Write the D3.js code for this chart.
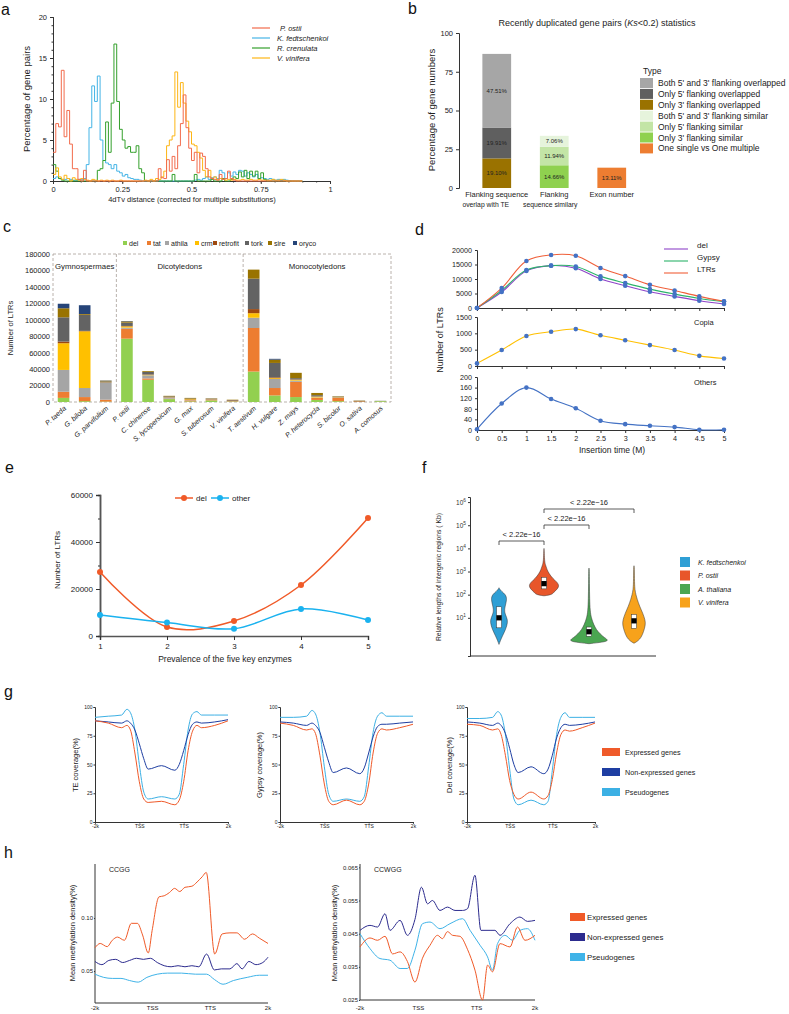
<!DOCTYPE html>
<html>
<head>
<meta charset="utf-8">
<script src="https://cdn.jsdelivr.net/npm/d3@7"></script>
<style>
body { margin: 0; background: #fff; }
svg { display: block; font-family: "Liberation Sans", Arial, sans-serif; }
</style>
</head>
<body>
<svg width="789" height="1014"></svg>
<script>
// ---------- data: panel a (4dTv histograms, bins of 0.01) ----------
const binWidthA = 0.01;
const speciesA = ['P. ostii', 'K. fedtschenkoi', 'R. crenulata', 'V. vinifera'];
const colorsA = ['#f26b4c', '#45b4e6', '#34a02c', '#fdb515'];
const ostiiA = [3.5,7,6.6,13.5,5.4,8.6,4.5,1.5,1.5,0.2, 0,1.3,0,0,0,0,0,0,0,0, 0,0,0,0,0,0,0,0,0,0,
  0,0,0,0,0,0,0,0,1.5,0.4, 0.3,2.6,1.2,3,1.5,4.3,7,10.5,6.5,4, 2.5,3.5,1,3.4,3,1.5,0.5,0.3,0.2,0.1,
  0.8,0.2,0.3,1.2,0.3,0.1,0,0,0,0, 0,0,0,0,0,0,0,0,0,0, 0,0,0,0,0,0,0,0,0,0];
const kfedA = [0.3,0.5,0.3,0.2,0.2,0.3,0.2,0.1,0.1,0.2, 0.2,0.3,2,6.5,11.6,9.7,12.8,5,2.5,2.2,
  2,1.5,2,1.2,1,0.6,0.8,0.4,0.3,0.2, 0.2,0.1,0,0,0,0,0,0,0,0, 0,0,0,0,0,0,0,0,0,0,
  0,0.1,0.2,0.1,0.3,0.5,0.2,0.4,0.5,0.3, 1.3,1,0.3,1,0.6,1.1,0.8,1.3,1.2,0.6,
  1,0.8,0.5,0.8,0.3,0.4,0.3,0.2,0.3,0.2, 0.1,0.2,0.1,0.2,0.1,0.05,0,0,0,0];
const crenA = [2,1.2,0.3,0.1,0,0,0,0,0,0, 0,0,0,0,0,0,1.3,1.5,2.5,7.2, 3.5,9.5,16.7,9.7,6.3,5,4,4.2,3.5,3.5,
  4.3,1.5,1,0,0,0,0,0,0,0, 0,0,0,0.8,0,0,0,0,0,0, 0,0.8,0,0,0,0,0,0.2,0,0,
  0,0.3,0,0,0.2,0.5,0.3,1.1,0.5,1.3, 0.3,1.2,0.6,1.2,0.3,1,0.2,0,0,0, 0,0,0,0,0,0,0,0,0,0];
const vinA = [0.8,1.6,0.5,0.2,0.7,0.3,0,0.4,0.2,0.1, 0.3,0.2,0.1,0,0.2,0.1,0,0.1,0,0.1,
  0,0.1,0,0,0.1,0,0,0,0,0, 0,0,0,0.1,0,0.2,0,0.3,0.2,0.5, 1.2,4.3,5,5.5,13.3,9,12,9.5,7.3,6,
  4.5,4.3,3.5,2.8,1.3,0.5,1.3,0.3,0.5,0.2, 0.3,0.2,0.1,0.2,0.1,0.2,0.1,0.1,0.2,0.1,
  0.1,0.2,0.1,0.1,0.2,0.1,0.1,0.1,0.1,0.2, 0.1,0.1,0.2,0.1,0,0,0,0,0,0];

// ---------- data: panel b ----------
const dupCategories = [['Flanking sequence', 'overlap with TE'], ['Flanking', 'sequence similary'], ['Exon number']];
const dupTypes = ["Both 5' and 3' flanking overlapped", "Only 5' flanking overlapped", "Only 3' flanking overlapped",
  "Both 5' and 3' flanking similar", "Only 5' flanking similar", "Only 3' flanking similar", 'One single vs One multiple'];
const dupColors = ['#a6a6a6', '#5f5f5f', '#9a7200', '#e6f4dc', '#c3e5a6', '#8fd14f', '#ed7d31'];
// [category index, type index, percent] bottom to top
const dupSegments = [[0, 2, 19.10], [0, 1, 19.91], [0, 0, 47.51], [1, 5, 14.66], [1, 4, 11.94], [1, 3, 7.06], [2, 6, 13.11]];

// ---------- data: panel c ----------
const speciesC = ['P. taeda', 'G. biloba', 'G. parvifolium', 'P. ostii', 'C. chinense', 'S. lycopersicum', 'G. max',
  'S. tuberosum', 'V. vinifera', 'T. aestivum', 'H. vulgare', 'Z. mays', 'P. heterocycla', 'S. bicolor', 'O. sativa', 'A. comosus'];
const ltrTypes = ['del', 'tat', 'athila', 'crm', 'retrofit', 'tork', 'sire', 'oryco'];
const ltrColors = ['#92d050', '#ed7d31', '#a5a5a5', '#ffc000', '#9e480e', '#636363', '#997300', '#264478'];
const ltrCounts = [
  [5000, 7500, 26500, 32500, 2000, 29500, 11000, 5500],
  [1000, 5000, 11000, 69000, 500, 19500, 1000, 10700],
  [500, 2300, 20500, 300, 300, 1200, 800, 300],
  [77000, 12000, 1500, 1500, 500, 4000, 1500, 500],
  [27000, 1700, 3800, 500, 500, 3000, 1000, 0],
  [3500, 500, 1500, 200, 300, 800, 700, 0],
  [800, 1200, 500, 800, 300, 600, 800, 0],
  [2000, 500, 500, 200, 400, 500, 400, 0],
  [500, 300, 200, 100, 800, 500, 400, 0],
  [37000, 53000, 12500, 5500, 5000, 37000, 11000, 0],
  [8000, 9000, 11000, 1000, 1000, 17500, 4000, 1000],
  [6000, 18500, 1500, 1000, 500, 1500, 6500, 0],
  [2500, 2500, 500, 1000, 300, 1500, 2700, 0],
  [1000, 4000, 500, 300, 200, 500, 500, 0],
  [200, 300, 100, 100, 500, 300, 300, 0],
  [1000, 100, 200, 0, 0, 200, 0, 0]
];
const groupsC = [['Gymnospermaes', 0, 3], ['Dicotyledons', 3, 9], ['Monocotyledons', 9, 16]];

// ---------- data: panel d ----------
const insertTime = [0, 0.5, 1, 1.5, 2, 2.5, 3, 3.5, 4, 4.5, 5];
const delD = [0, 5500, 12800, 14600, 13700, 10000, 7700, 5600, 4000, 2500, 1400];
const gypsyD = [0, 6050, 13100, 14600, 14300, 10900, 8600, 6500, 4800, 3300, 2200];
const ltrsD = [0, 6860, 16200, 18300, 18000, 13800, 11000, 8000, 6050, 4000, 2300];
const copiaD = [80, 490, 920, 1050, 1130, 940, 790, 640, 490, 310, 230];
const othersD = [3, 100, 160, 117, 82, 35, 22, 16, 11, 1, 1];

// ---------- data: panel e ----------
const prevalence = [1, 2, 3, 4, 5];
const delE = [27200, 3800, 6400, 21700, 50200];
const otherE = [8900, 5700, 3100, 11500, 6800];

// ---------- data: panel f (violins, log10 Kb vs relative half width) ----------
const speciesF = ['K. fedtschenkoi', 'P. ostii', 'A. thaliana', 'V. vinifera'];
const colorsF = ['#2f9fd5', '#e8562a', '#4aa651', '#f7a21b'];
const violinLog = [
  [[-0.15,0],[0,0.08],[0.2,0.2],[0.5,0.42],[0.8,0.55],[1,0.5],[1.25,0.32],[1.5,0.38],[1.8,0.5],[2,0.42],[2.15,0.15],[2.25,0.03],[2.3,0]],
  [[1.95,0],[2,0.5],[2.1,0.6],[2.25,0.85],[2.4,0.95],[2.55,0.8],[2.7,0.55],[2.9,0.32],[3.1,0.18],[3.3,0.08],[3.5,0.03],[3.9,0.015],[4,0]],
  [[-0.12,0],[-0.05,0.9],[0.02,1.25],[0.15,0.95],[0.3,0.7],[0.5,0.45],[0.7,0.3],[1,0.14],[1.3,0.07],[1.8,0.04],[2.5,0.025],[3.1,0.015],[3.15,0]],
  [[-0.1,0],[0,0.25],[0.15,0.45],[0.4,0.6],[0.7,0.72],[0.9,0.7],[1.2,0.55],[1.5,0.35],[1.8,0.2],[2,0.12],[2.2,0.06],[2.5,0.03],[3.2,0.02],[3.25,0]]
];
const boxF = [[3.7, 10, 30], [178, 300, 560], [1.6, 2.5, 4], [3.5, 7.4, 14]];
const pairsF = [[0, 1, '< 2.22e\u221216'], [1, 2, '< 2.22e\u221216'], [1, 3, '< 2.22e\u221216']];

// ---------- data: panel g ----------
const geneTicks = ['-2k', 'TSS', 'TTS', '2k'];
const geneSeries = ['Expressed genes', 'Non-expressed genes', 'Pseudogenes'];
const geneColors = ['#ef5a2a', '#1e3ea2', '#3cb0e4'];
const gX = [0, 0.3, 0.6, 0.72, 0.8, 0.9, 1.0, 1.1, 1.2, 1.5, 1.8, 1.9, 2.0, 2.1, 2.2, 2.3, 2.4, 2.7, 3.0];
const teCov = [
  [88, 86, 82, 84, 80, 60, 35, 20, 17, 18, 15, 19, 35, 62, 79, 84, 82, 84, 88],
  [88, 87, 86, 88, 86, 80, 68, 55, 46, 49, 45, 50, 62, 76, 85, 87, 86, 87, 89],
  [91, 92, 93, 98, 95, 80, 50, 26, 20, 22, 20, 24, 50, 80, 94, 96, 93, 93, 93]
];
const gypsyCov = [
  [86, 84, 80, 81, 77, 58, 33, 18, 15, 19, 15, 18, 33, 60, 77, 81, 80, 82, 85],
  [87, 86, 84, 86, 84, 78, 65, 52, 43, 47, 42, 47, 60, 74, 83, 85, 85, 86, 87],
  [91, 91, 92, 97, 94, 78, 48, 24, 18, 20, 18, 22, 48, 78, 92, 95, 92, 92, 92]
];
const delCov = [
  [85, 84, 80, 81, 76, 58, 36, 24, 20, 26, 20, 23, 37, 60, 76, 80, 79, 82, 86],
  [87, 86, 84, 86, 84, 77, 64, 50, 43, 48, 42, 46, 58, 73, 82, 85, 84, 85, 87],
  [90, 90, 91, 96, 93, 76, 46, 20, 15, 19, 15, 18, 45, 76, 91, 95, 91, 91, 91]
];

// ---------- data: panel h ([position 0..1 from -2k to 2k, density]) ----------
const ccggExp = [[0,0.072],[0.03,0.076],[0.07,0.073],[0.1,0.079],[0.13,0.082],[0.17,0.079],[0.21,0.095],[0.245,0.095],[0.275,0.084],[0.308,0.067],[0.33,0.088],[0.37,0.12],[0.4,0.121],[0.43,0.124],[0.46,0.128],[0.49,0.125],[0.52,0.129],[0.56,0.13],[0.59,0.134],[0.62,0.139],[0.643,0.143],[0.692,0.066],[0.735,0.085],[0.78,0.086],[0.82,0.086],[0.865,0.08],[0.91,0.085],[0.95,0.081],[1,0.076]];
const ccggNon = [[0,0.059],[0.04,0.056],[0.08,0.06],[0.12,0.061],[0.16,0.058],[0.2,0.06],[0.24,0.062],[0.28,0.061],[0.32,0.062],[0.36,0.058],[0.4,0.055],[0.44,0.054],[0.48,0.055],[0.52,0.054],[0.56,0.055],[0.6,0.054],[0.645,0.066],[0.69,0.051],[0.73,0.052],[0.78,0.052],[0.82,0.057],[0.85,0.052],[0.89,0.059],[0.93,0.056],[0.97,0.058],[1,0.063]];
const ccggPseudo = [[0,0.047],[0.05,0.044],[0.1,0.043],[0.15,0.043],[0.2,0.041],[0.25,0.0395],[0.3,0.044],[0.36,0.047],[0.42,0.048],[0.5,0.048],[0.58,0.047],[0.645,0.047],[0.69,0.042],[0.74,0.0375],[0.8,0.041],[0.88,0.044],[0.95,0.046],[1,0.046]];
const ccwggExp = [[0,0.041],[0.057,0.0437],[0.1,0.043],[0.143,0.0442],[0.186,0.0389],[0.229,0.0395],[0.271,0.0366],[0.314,0.0304],[0.357,0.0376],[0.4,0.0415],[0.443,0.0445],[0.471,0.0435],[0.5,0.0456],[0.529,0.0445],[0.571,0.0442],[0.614,0.0403],[0.657,0.034],[0.7,0.025],[0.729,0.0355],[0.757,0.0335],[0.8,0.042],[0.857,0.041],[0.9,0.047],[0.943,0.043],[1,0.0445]];
const ccwggNon = [[0,0.046],[0.057,0.0475],[0.1,0.047],[0.143,0.051],[0.171,0.046],[0.229,0.049],[0.271,0.0445],[0.314,0.0493],[0.351,0.059],[0.386,0.054],[0.414,0.055],[0.457,0.052],[0.5,0.053],[0.543,0.052],[0.586,0.052],[0.614,0.0525],[0.657,0.0626],[0.691,0.046],[0.743,0.046],[0.771,0.046],[0.8,0.0445],[0.857,0.048],[0.914,0.05],[0.957,0.0487],[1,0.049]];
const ccwggPseudo = [[0,0.045],[0.057,0.0405],[0.114,0.0375],[0.171,0.037],[0.229,0.0345],[0.271,0.0345],[0.314,0.04],[0.357,0.048],[0.4,0.0485],[0.457,0.0465],[0.514,0.048],[0.586,0.0495],[0.629,0.046],[0.686,0.0415],[0.729,0.038],[0.757,0.034],[0.786,0.042],[0.829,0.0445],[0.871,0.043],[0.914,0.046],[0.957,0.0465],[1,0.043]];
const hColors = ['#f05a28', '#2c2b8e', '#3fb3e8'];

// ================= drawing =================
const svg = d3.select('svg');
svg.append('rect').attr('width', 789).attr('height', 1014).attr('fill', '#fff');

function letter(t, x, y) {
    svg.append('text').attr('x', x).attr('y', y).attr('font-size', 16).attr('fill', '#111').text(t);
}
function fixAxis(g, size) {
    g.attr('font-family', null).attr('font-size', size);
    g.selectAll('.domain').attr('stroke', '#333');
    g.selectAll('.tick line').attr('stroke', '#333');
    g.selectAll('.tick text').attr('fill', '#222');
    return g;
}
function label(x, y, t, size, opts = {}) {
    const el = svg.append('text')
        .attr('x', x).attr('y', y)
        .attr('font-size', size)
        .attr('fill', opts.fill || '#222')
        .attr('text-anchor', opts.anchor || 'middle')
        .text(t);
    if (opts.rotate) el.attr('transform', `rotate(${opts.rotate},${x},${y})`);
    if (opts.italic) el.attr('font-style', 'italic');
    return el;
}
const intFmt = d3.format('d');

// ---------------- panel a ----------------
letter('a', 1, 15);
const xA = d3.scaleLinear().domain([0, 1]).range([53, 330]);
const yA = d3.scaleLinear().domain([0, 20]).range([181, 17]);
fixAxis(svg.append('g').attr('transform', 'translate(0,181)')
    .call(d3.axisBottom(xA).tickValues(d3.range(0, 1.001, 0.05)).tickSize(1.5).tickFormat('')), 7.5);
fixAxis(svg.append('g').attr('transform', 'translate(0,181)')
    .call(d3.axisBottom(xA).tickValues([0, 0.25, 0.5, 0.75, 1]).tickSize(3).tickFormat(d3.format('~g'))), 7.5);
fixAxis(svg.append('g').attr('transform', 'translate(53,0)')
    .call(d3.axisLeft(yA).tickValues(d3.range(0, 21, 1)).tickSize(1.5).tickFormat('')), 7.5);
fixAxis(svg.append('g').attr('transform', 'translate(53,0)')
    .call(d3.axisLeft(yA).tickValues([0, 5, 10, 15, 20]).tickSize(3)), 7.5);
label(30, 99, 'Percentage of gene pairs', 9.5, { rotate: -90 });
label(192, 202, '4dTv distance (corrected for multiple substitutions)', 7.5);

const stepLine = d3.line().x(d => xA(d[0])).y(d => yA(d[1])).curve(d3.curveStepAfter);
[kfedA, crenA, vinA, ostiiA].forEach((vals, k) => {
    const idx = [1, 2, 3, 0][k];
    const pts = vals.map((v, i) => [i * binWidthA, v]);
    pts.push([vals.length * binWidthA, vals[vals.length - 1]]);
    svg.append('path').datum(pts)
        .attr('d', stepLine)
        .attr('fill', 'none')
        .attr('stroke', colorsA[idx])
        .attr('stroke-width', 1);
});
speciesA.forEach((s, i) => {
    const y = 28 + i * 10;
    svg.append('line').attr('x1', 252).attr('x2', 270).attr('y1', y).attr('y2', y)
        .attr('stroke', colorsA[i]).attr('stroke-width', 1.2);
    label(i === 0 ? 280 : 277, y + 2.5, s, 7.5, { anchor: 'start', italic: true });
});

// ---------------- panel b ----------------
letter('b', 408, 14);
const titleB = svg.append('text').attr('x', 597).attr('y', 26).attr('font-size', 9).attr('text-anchor', 'middle').attr('fill', '#222');
titleB.append('tspan').text('Recently duplicated gene pairs (');
titleB.append('tspan').attr('font-style', 'italic').text('Ks');
titleB.append('tspan').text('<0.2) statistics');
const xB = d3.scaleBand().domain(d3.range(3)).range([468, 640.5]).paddingInner(0.5).paddingOuter(0.25);
const yB = d3.scaleLinear().domain([0, 100]).range([188, 33]);
fixAxis(svg.append('g').attr('transform', 'translate(459,0)')
    .call(d3.axisLeft(yB).tickValues([0, 25, 50, 75, 100]).tickSize(3)), 7.5);
label(435, 110, 'Percentage of gene numbers', 9.5, { rotate: -90 });
const cumB = [0, 0, 0];
dupSegments.forEach(([c, t, v]) => {
    const y0 = cumB[c], y1 = y0 + v;
    cumB[c] = y1;
    svg.append('rect')
        .attr('x', xB(c)).attr('width', xB.bandwidth())
        .attr('y', yB(y1)).attr('height', yB(y0) - yB(y1))
        .attr('fill', dupColors[t]);
    label(xB(c) + xB.bandwidth() / 2, (yB(y0) + yB(y1)) / 2 + 2, v.toFixed(2) + '%', 6, { fill: '#222' });
});
// second caption lines sit slightly off the bar centres, as in the figure
const captionShiftB = [[0, -11], [0, -4], [0]];
dupCategories.forEach((lines, c) => {
    lines.forEach((t, j) => label(xB(c) + xB.bandwidth() / 2 + captionShiftB[c][j], 197 + j * 9.5, t, j === 0 ? 7.5 : 6.8));
});
label(643, 74, 'Type', 8.5, { anchor: 'start' });
dupTypes.forEach((t, i) => {
    const y = 83 + i * 10.9;
    svg.append('rect').attr('x', 640).attr('y', y - 5).attr('width', 13).attr('height', 10).attr('fill', dupColors[i]);
    label(658, y + 3, t, 8.5, { anchor: 'start' });
});

// ---------------- panel c ----------------
letter('c', 3, 232);
const xC = d3.scaleBand().domain(speciesC).range([53, 391]).paddingInner(0.45).paddingOuter(0.225);
const yC = d3.scaleLinear().domain([0, 180000]).range([402, 254]);
const yAxisC = fixAxis(svg.append('g').attr('transform', 'translate(52,0)')
    .call(d3.axisLeft(yC).tickValues(d3.range(0, 180001, 20000)).tickSize(0).tickPadding(2).tickFormat(intFmt)), 7.5);
yAxisC.select('.domain').remove();
label(13, 328, 'Number of LTRs', 7.5, { rotate: -90 });
svg.append('rect').attr('x', 53).attr('y', 254).attr('width', 338).attr('height', 148)
    .attr('fill', 'none').attr('stroke', '#a89f98').attr('stroke-dasharray', '3,2').attr('stroke-width', 0.8);
groupsC.forEach(([name, a, b], i) => {
    const x0 = i === 0 ? 53 : xC(speciesC[a]) - xC.step() * xC.paddingInner() / 2;
    const x1 = b === speciesC.length ? 391 : xC(speciesC[b]) - xC.step() * xC.paddingInner() / 2;
    if (i > 0) {
        svg.append('line').attr('x1', x0).attr('x2', x0).attr('y1', 254).attr('y2', 402)
            .attr('stroke', '#a89f98').attr('stroke-dasharray', '3,2').attr('stroke-width', 0.8);
    }
    label((x0 + x1) / 2, 269, name, 7.8);
});
const stackC = d3.stack().keys(d3.range(ltrTypes.length))(ltrCounts);
stackC.forEach((layer, k) => {
    svg.append('g').selectAll('rect').data(layer).enter().append('rect')
        .attr('x', (d, i) => xC(speciesC[i]))
        .attr('width', xC.bandwidth())
        .attr('y', d => yC(d[1]))
        .attr('height', d => yC(d[0]) - yC(d[1]))
        .attr('fill', ltrColors[k]);
});
speciesC.forEach(s => {
    const x = xC(s) + xC.bandwidth() / 2 + 3, y = 409;
    label(x, y, s, 7, { anchor: 'end', italic: true, rotate: -42 });
});
const legCx = [123, 147, 165, 195, 213, 245, 268, 293];
ltrTypes.forEach((t, i) => {
    svg.append('rect').attr('x', legCx[i]).attr('y', 241).attr('width', 4).attr('height', 4).attr('fill', ltrColors[i]);
    label(legCx[i] + 6, 246, t, 7, { anchor: 'start' });
});

// ---------------- panel d ----------------
letter('d', 415, 235);
const xD = d3.scaleLinear().domain([0, 5]).range([477, 724]);
const subD = [
    { y: d3.scaleLinear().domain([0, 20000]).range([308, 250]), ticks: [0, 5000, 10000, 15000, 20000] },
    { y: d3.scaleLinear().domain([0, 1500]).range([366, 317]), ticks: [0, 500, 1000, 1500] },
    { y: d3.scaleLinear().domain([0, 200]).range([430, 377]), ticks: [0, 40, 80, 120, 160, 200] }
];
subD.forEach((s, i) => {
    fixAxis(svg.append('g').attr('transform', 'translate(477,0)')
        .call(d3.axisLeft(s.y).tickValues(s.ticks).tickSize(2).tickFormat(intFmt)), 7.2);
    fixAxis(svg.append('g').attr('transform', `translate(0,${s.y(0)})`)
        .call(d3.axisBottom(xD).tickValues(insertTime).tickSize(3).tickFormat(i === 2 ? d3.format('~g') : '')), 7.2);
});
label(443, 340, 'Number of LTRs', 9, { rotate: -90 });
label(612, 453, 'Insertion time (M)', 8.5);
const curveD = (ys, sc) => d3.line().x((d, i) => xD(insertTime[i])).y(d => sc(d)).curve(d3.curveCatmullRom)(ys);
const linesD = [[delD, '#8e44c9', 0], [gypsyD, '#2db36b', 0], [ltrsD, '#f0603a', 0], [copiaD, '#ffc000', 1], [othersD, '#4472c4', 2]];
linesD.forEach(([vals, col, k]) => {
    svg.append('path').attr('d', curveD(vals, subD[k].y)).attr('fill', 'none').attr('stroke', col).attr('stroke-width', 1.1);
});
linesD.forEach(([vals, col, k]) => {
    svg.append('g').selectAll('circle').data(vals).enter().append('circle')
        .attr('cx', (d, i) => xD(insertTime[i])).attr('cy', d => subD[k].y(d))
        .attr('r', 2.3).attr('fill', '#4472c4');
});
[['del', '#8e44c9'], ['Gypsy', '#2db36b'], ['LTRs', '#f0603a']].forEach(([t, c], i) => {
    const y = 249 + i * 12;
    svg.append('line').attr('x1', 664).attr('x2', 688).attr('y1', y).attr('y2', y).attr('stroke', c).attr('stroke-width', 1.1);
    label(697, y - 1, t, 8, { anchor: 'start' });
});
label(694, 325, 'Copia', 7.5, { anchor: 'start' });
label(694, 385, 'Others', 7.5, { anchor: 'start' });

// ---------------- panel e ----------------
letter('e', 5, 473);
const xE = d3.scaleLinear().domain([1, 5]).range([100, 368]);
const yE = d3.scaleLinear().domain([0, 60000]).range([636, 495]);
fixAxis(svg.append('g').attr('transform', 'translate(100,0)')
    .call(d3.axisLeft(yE).tickValues(d3.range(0, 60001, 10000)).tickSize(2).tickFormat('')), 8)
    .selectAll('.domain').attr('stroke-width', 1.5).attr('stroke', '#555');
fixAxis(svg.append('g').attr('transform', 'translate(100,0)')
    .call(d3.axisLeft(yE).tickValues([0, 20000, 40000, 60000]).tickSize(4).tickFormat(intFmt)), 8)
    .selectAll('.domain').attr('stroke-width', 1.5).attr('stroke', '#555');
fixAxis(svg.append('g').attr('transform', 'translate(0,636)')
    .call(d3.axisBottom(xE).tickValues(prevalence).tickSize(4).tickFormat(intFmt)), 8)
    .selectAll('.domain').attr('stroke-width', 1.5).attr('stroke', '#555');
label(60, 560, 'Number of LTRs', 8, { rotate: -90 });
label(225, 662, 'Prevalence of the five key enzymes', 8.5);
const lineE = d3.line().x((d, i) => xE(prevalence[i])).y(d => yE(d)).curve(d3.curveCatmullRom);
[[delE, '#f05a28'], [otherE, '#1ab2ef']].forEach(([vals, col]) => {
    svg.append('path').attr('d', lineE(vals)).attr('fill', 'none').attr('stroke', col).attr('stroke-width', 1.5);
    svg.append('g').selectAll('circle').data(vals).enter().append('circle')
        .attr('cx', (d, i) => xE(prevalence[i])).attr('cy', d => yE(d)).attr('r', 3).attr('fill', col);
});
[['del', '#f05a28', 175], ['other', '#1ab2ef', 211]].forEach(([t, c, x]) => {
    svg.append('line').attr('x1', x).attr('x2', x + 18).attr('y1', 498).attr('y2', 498).attr('stroke', c).attr('stroke-width', 1.5);
    svg.append('circle').attr('cx', x + 9).attr('cy', 498).attr('r', 3).attr('fill', c);
    label(x + 21, 501, t, 8, { anchor: 'start' });
});

// ---------------- panel f ----------------
letter('f', 422, 473);
const xF = d3.scaleBand().domain(d3.range(4)).range([476.5, 656.5]).padding(0);
const yF = d3.scaleLog().domain([Math.pow(10, -0.65), Math.pow(10, 6.22)]).range([656, 497]);
const wF = d3.scaleLinear().domain([0, 1]).range([0, 16]);
const cxF = i => xF(i) + xF.bandwidth() / 2;
fixAxis(svg.append('g').attr('transform', 'translate(470,0)')
    .call(d3.axisLeft(yF).tickValues([1e1, 1e2, 1e3, 1e4, 1e5, 1e6]).tickSize(2).tickFormat('')), 6);
[1, 2, 3, 4, 5, 6].forEach(p => {
    const t = svg.append('text').attr('x', 466).attr('y', yF(Math.pow(10, p)) + 2.5).attr('text-anchor', 'end')
        .attr('font-size', 6.5).attr('fill', '#333');
    t.append('tspan').text('10');
    t.append('tspan').attr('font-size', 4.8).attr('dy', -3).text(p);
});
svg.append('line').attr('x1', 470).attr('x2', 656).attr('y1', 656).attr('y2', 656).attr('stroke', '#333');
label(441, 577, 'Relative lengths of intergenic regions ( Kb)', 6.8, { rotate: -90 });
violinLog.forEach((prof, i) => {
    const area = d3.area()
        .y(d => yF(Math.pow(10, d[0])))
        .x0(d => cxF(i) - wF(d[1]))
        .x1(d => cxF(i) + wF(d[1]))
        .curve(d3.curveBasis);
    svg.append('path').attr('d', area(prof)).attr('fill', colorsF[i]).attr('stroke', '#333').attr('stroke-width', 0.5);
    const [q1, med, q3] = boxF[i];
    svg.append('rect').attr('x', cxF(i) - 2.5).attr('width', 5)
        .attr('y', yF(q3)).attr('height', yF(q1) - yF(q3))
        .attr('fill', '#fff').attr('stroke', '#333').attr('stroke-width', 0.5);
    svg.append('rect').attr('x', cxF(i) - 2.6).attr('width', 5.2)
        .attr('y', yF(med) - 2.6).attr('height', 5.2).attr('fill', '#000');
});
const bracketY = [541, 525, 509];
pairsF.forEach(([a, b, t], k) => {
    const y = bracketY[k];
    svg.append('path')
        .attr('d', `M${cxF(a)},${y + 4}V${y}H${cxF(b)}V${y + 4}`)
        .attr('fill', 'none').attr('stroke', '#333').attr('stroke-width', 0.8);
    label((cxF(a) + cxF(b)) / 2, y - 4, t, 7.5);
});
speciesF.forEach((s, i) => {
    const y = 562 + i * 13.5;
    svg.append('rect').attr('x', 680).attr('y', y - 5).attr('width', 10).attr('height', 10).attr('fill', colorsF[i]);
    label(698, y + 2.5, s, 7, { anchor: 'start', italic: true });
});

// ---------------- panel g ----------------
letter('g', 4, 697);
const yG = d3.scaleLinear().domain([0, 100]).range([822, 707]);
const plotsG = [[95, 228, 'TE coverage(%)', teCov, 78], [280, 413, 'Gypsy coverage(%)', gypsyCov, 262], [467, 595, 'Del coverage(%)', delCov, 452]];
plotsG.forEach(([x0, x1, yl, data, lx]) => {
    const xG = d3.scaleLinear().domain([0, 3]).range([x0, x1]);
    fixAxis(svg.append('g').attr('transform', `translate(${x0},0)`)
        .call(d3.axisLeft(yG).tickValues([0, 25, 50, 75, 100]).tickSize(1.5).tickPadding(1)), 5);
    fixAxis(svg.append('g').attr('transform', 'translate(0,822)')
        .call(d3.axisBottom(xG).tickValues([0, 1, 2, 3]).tickSize(1.5).tickPadding(1).tickFormat((d, i) => geneTicks[i])), 5);
    label(lx, 765, yl, 7.5, { rotate: -90 });
    const lineG = d3.line().x((d, i) => xG(gX[i])).y(d => yG(d)).curve(d3.curveMonotoneX);
    [2, 1, 0].forEach(k => {
        svg.append('path').attr('d', lineG(data[k])).attr('fill', 'none')
            .attr('stroke', geneColors[k]).attr('stroke-width', 1);
    });
});
geneSeries.forEach((s, i) => {
    const y = 752 + i * 20;
    svg.append('rect').attr('x', 602).attr('y', y - 4).attr('width', 18).attr('height', 8).attr('fill', geneColors[i]);
    label(625, y + 2.5, s, 7.2, { anchor: 'start' });
});

// ---------------- panel h ----------------
letter('h', 4, 858);
const plotsH = [
    { x0: 95, x1: 268, y: d3.scaleLinear().domain([0.0198, 0.151]).range([1003, 864]), ticks: [0.05, 0.10], fmt: '.2f',
      title: 'CCGG', series: [ccggPseudo, ccggNon, ccggExp], lx: 75 },
    { x0: 360, x1: 535, y: d3.scaleLinear().domain([0.025, 0.066]).range([1000, 864]), ticks: [0.025, 0.035, 0.045, 0.055, 0.065], fmt: '.3f',
      title: 'CCWGG', series: [ccwggPseudo, ccwggNon, ccwggExp], lx: 337 }
];
plotsH.forEach(p => {
    const xH = d3.scaleLinear().domain([0, 1]).range([p.x0, p.x1]);
    const yb = p.y.range()[0];
    fixAxis(svg.append('g').attr('transform', `translate(${p.x0},0)`)
        .call(d3.axisLeft(p.y).tickValues(p.ticks).tickSize(1).tickPadding(1).tickFormat(d3.format(p.fmt))), 6)
        .select('.domain').attr('d', `M-0,${p.y.range()[1]}V${yb}`);
    svg.append('line').attr('x1', p.x0).attr('x2', p.x1).attr('y1', yb).attr('y2', yb).attr('stroke', '#333');
    [0, 1 / 3, 2 / 3, 1].forEach((t, i) => label(xH(t), 1010, geneTicks[i], 6));
    label(p.x0 + 14, 872, p.title, 7, { anchor: 'start' });
    label(p.lx, 933, 'Mean methylation density(%)', 7.5, { rotate: -90 });
    const lineH = d3.line().x(d => xH(d[0])).y(d => p.y(d[1])).curve(d3.curveMonotoneX);
    p.series.forEach((s, k) => {
        svg.append('path').attr('d', lineH(s)).attr('fill', 'none')
            .attr('stroke', hColors[2 - k]).attr('stroke-width', 1);
    });
});
geneSeries.forEach((s, i) => {
    const y = 917 + i * 20;
    svg.append('rect').attr('x', 570).attr('y', y - 4).attr('width', 15).attr('height', 8).attr('fill', hColors[i]);
    label(587, y + 2.5, s, 7.8, { anchor: 'start' });
});
</script>
</body>
</html>
